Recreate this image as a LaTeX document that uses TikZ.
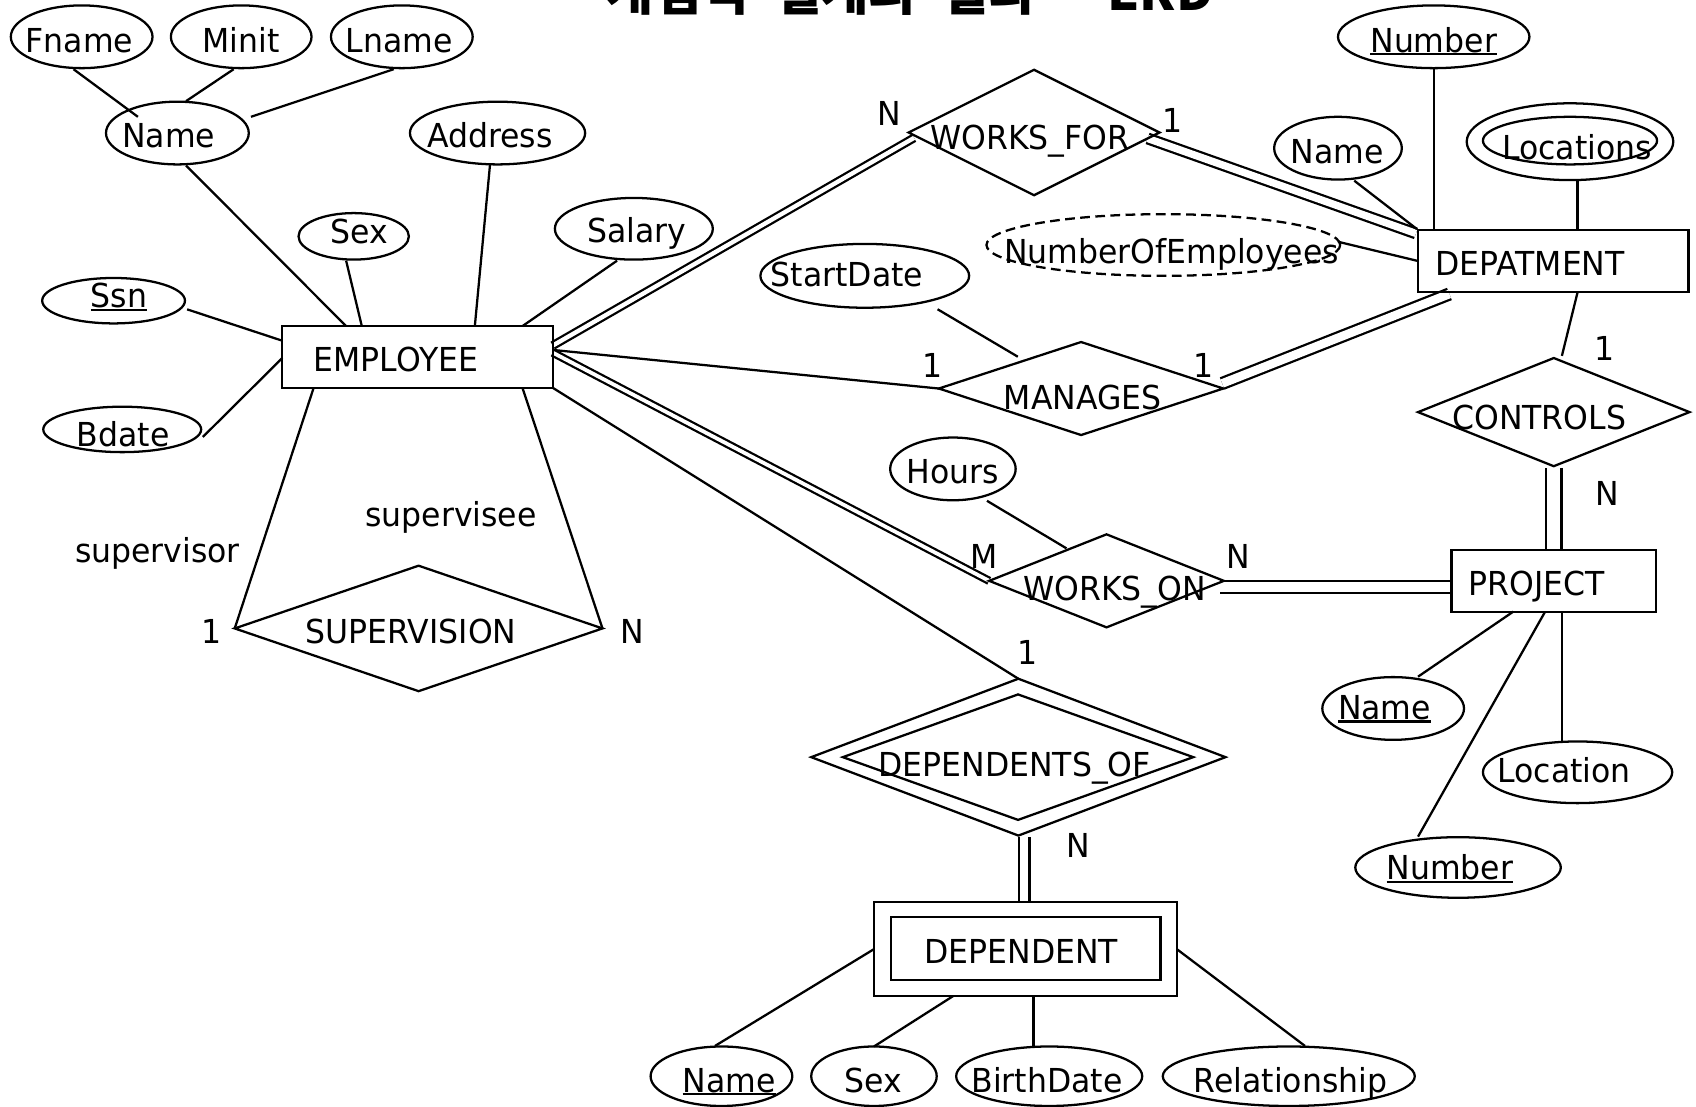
\documentclass[tikz,border=0pt]{standalone}
\usepackage{fontspec}
\setmainfont{DejaVu Sans}[FakeStretch=0.955]
\newfontfamily\krfont{Noto Sans CJK KR}
\usetikzlibrary{shapes.geometric,calc}
\pgfdeclarelayer{paper}
\pgfdeclarelayer{links}
\pgfsetlayers{paper,links,main}

% text inside a node, moved by dx (right) and dy (down)
\newcommand\tx[3]{\makebox[0pt]{\hspace*{#1pt}\hspace*{#1pt}\raisebox{-#2pt}{#3}}}
% text starting dx from the node centre, moved dy down
\newcommand\txl[3]{\makebox[0pt][l]{\hspace*{#1pt}\raisebox{-#2pt}{#3}}}
% underline for key attributes
\newcommand\keyline[1]{\setbox0=\hbox{#1}\rlap{\rule[-3pt]{\wd0}{2pt}}\box0}

\tikzset{
  every node/.style={font=\fontsize{30.5}{36}\selectfont, text height=22.2pt,
    text depth=0pt, inner sep=0pt, outer sep=0pt},
  attr/.style={ellipse, draw, line width=2.1pt},
  entity/.style={rectangle, draw, line width=2.1pt},
  rel/.style={diamond, draw, line width=2.1pt},
  link/.style={line width=2.1pt},
  dbl/.style={double, line width=2.1pt, double distance=#1},
}

\begin{document}
\begin{tikzpicture}[x=1pt, y=-1pt]
\useasboundingbox (0,0) rectangle (1568,1023);
\clip (0,0) rectangle (1568,1023);
\begin{pgfonlayer}{paper}
  \fill[white] (0,0) rectangle (1568,1023);
\end{pgfonlayer}

% title
\node[anchor=base west, font=\krfont\bfseries\fontsize{47.5}{52}\selectfont] (title) at (561,10)
  {개념적\hspace{0.5em}설계의\hspace{0.5em}결과\hspace{0.5em}-\hspace{0.5em}ERD};

% EMPLOYEE and its attributes
\node[entity, minimum width=250, minimum height=57] (emp) at (386,330) {\txl{-96}{2}{EMPLOYEE}};
\node[attr, minimum width=131, minimum height=58] (fname) at (75.5,34) {\tx{-2}{3}{Fname}};
\node[attr, minimum width=130, minimum height=58] (minit) at (223,34) {\tx{0}{3}{Minit}};
\node[attr, minimum width=131, minimum height=58] (lname) at (371.5,34) {\tx{-2.5}{3}{Lname}};
\node[attr, minimum width=132, minimum height=58] (ename) at (164,123) {\tx{-8}{2}{Name}};
\node[attr, minimum width=162, minimum height=58] (address) at (460,123) {\tx{-7}{2.6}{Address}};
\node[attr, minimum width=102, minimum height=43] (sex) at (327,218.5) {\tx{5.5}{-4.5}{Sex}};
\node[attr, minimum width=146, minimum height=57] (salary) at (586,211.5) {\tx{2.5}{2}{Salary}};
\node[attr, minimum width=132, minimum height=42] (ssn) at (105,278) {\tx{5}{-4.5}{\keyline{Ssn}}};
\node[attr, minimum width=146, minimum height=42] (bdate) at (113,397) {\tx{1}{4.5}{Bdate}};

% DEPATMENT and its attributes
\node[entity, minimum width=250, minimum height=57] (dept) at (1436,241.3) {\txl{-109}{2.2}{DEPATMENT}};
\node[attr, minimum width=177, minimum height=58] (dnum) at (1325.5,34) {\tx{0}{3}{\keyline{Number}}};
\node[attr, minimum width=118, minimum height=58] (dname) at (1237,137) {\tx{-1}{3}{Name}};
\node[attr, minimum width=191, minimum height=71] (locs) at (1451.5,131) {\tx{6.5}{5}{Locations}};
\node[attr, minimum width=161, minimum height=44] (locsin) at (1451.5,130) {};
\node[attr, dashed, dash pattern=on 9pt off 5pt, minimum width=327, minimum height=57] (noe)
  at (1075.5,226.5) {\tx{7.7}{6}{NumberOfEmployees}};

% PROJECT and its attributes
\node[entity, minimum width=189, minimum height=57] (proj) at (1436.5,537) {\txl{-78.5}{2.4}{PROJECT}};
\node[attr, minimum width=131, minimum height=58] (pname) at (1288,655) {\tx{-8}{-1}{\keyline{Name}}};
\node[attr, minimum width=175, minimum height=57] (ploc) at (1458.5,714) {\tx{-12.5}{-1.3}{Location}};
\node[attr, minimum width=190, minimum height=56] (pnum) at (1348,802) {\tx{-7.5}{0}{\keyline{Number}}};

% DEPENDENT (weak entity) and its attributes
\node[entity, minimum width=280, minimum height=87] (dep) at (948,877.5) {\txl{-93.4}{2.5}{DEPENDENT}};
\node[entity, minimum width=249, minimum height=58] (depin) at (948.5,877) {};
\node[attr, minimum width=131, minimum height=55] (dpname) at (667,995) {\tx{7}{3.5}{\keyline{Name}}};
\node[attr, minimum width=116, minimum height=55] (dsex) at (808,995) {\tx{-1}{3.5}{Sex}};
\node[attr, minimum width=172, minimum height=55] (dbirth) at (970,995) {\tx{-2}{3.5}{BirthDate}};
\node[attr, minimum width=233, minimum height=55] (drel) at (1191.5,995) {\tx{1.5}{3.5}{Relationship}};

% relationships
\node[rel, minimum width=232, minimum height=116] (wf) at (956,122.5) {\tx{-4}{4.5}{WORKS\_FOR}};
\node[rel, minimum width=263, minimum height=86] (man) at (999.5,359.2) {\tx{1.5}{8}{MANAGES}};
\node[attr, minimum width=193, minimum height=59] (start) at (799.5,255) {\tx{-16.5}{-1}{StartDate}};
\node[rel, minimum width=251, minimum height=100] (ctrl) at (1436.5,381) {\tx{-13.5}{5}{CONTROLS}};
\node[rel, minimum width=217, minimum height=86] (won) at (1023,537) {\tx{7.4}{7}{WORKS\_ON}};
\node[attr, minimum width=116, minimum height=58] (hours) at (881,433.5) {\tx{0}{2.5}{Hours}};
\node[rel, minimum width=383, minimum height=145] (depof) at (941.5,700) {\tx{-3.5}{6.5}{DEPENDENTS\_OF}};
\node[rel, minimum width=324, minimum height=116] (depofin) at (941.2,700) {};
\node[rel, minimum width=340, minimum height=116] (sup) at (387,581) {\tx{-7}{3}{SUPERVISION}};

% role names and cardinalities
\node (supervisor) at (145.6,509) {supervisor};
\node (supervisee) at (417,476) {supervisee};
\node (cwf1) at (822,104.8) {N};
\node (cwf2) at (1084,111) {1};
\node (cman1) at (861.7,337.5) {1};
\node (cman2) at (1113,338) {1};
\node (cctrl1) at (1483.3,322) {1};
\node (cctrl2) at (1485.7,456) {N};
\node (cwon1) at (909.5,514.7) {M};
\node (cwon2) at (1144.8,514.7) {N};
\node (cdep1) at (950,603.3) {1};
\node (cdep2) at (996.7,781.3) {N};
\node (csup1) at (195.6,584) {1};
\node (csup2) at (585,584) {N};

% free ends of the vertical connectors
\coordinate (locsfoot) at ($(locs)+(7,35.5)$);
\coordinate (projfoot) at ($(proj.south)+(7.5,0)$);
\coordinate (depoffoot) at ($(depof.south)+(5.5,1.5)$);
\coordinate (depfoot) at ($(dep.south)+(7.4,0)$);

\begin{pgfonlayer}{links}
  % composite name
  \draw[link] ($(fname)+(-7.5,30)$) -- ($(ename)+(-36.5,-15)$);
  \draw[link] ($(minit)+(-7,30)$) -- ($(ename)+(8,-29.5)$);
  \draw[link] ($(lname)+(-7.5,30)$) -- ($(ename)+(68,-15)$);
  % EMPLOYEE attributes
  \draw[link] ($(ename)+(8,30)$) -- ($(emp.north)+(-66,0)$);
  \draw[link] ($(sex)+(-7,22.5)$) -- ($(emp.north)+(-51.5,0)$);
  \draw[link] ($(address)+(-7,29.5)$) -- ($(emp.north)+(53,0)$);
  \draw[link] ($(salary)+(-15.5,29.5)$) -- ($(emp.north)+(97,0)$);
  \draw[link] ($(ssn)+(68,8)$) -- ($(emp.west)+(0,-15)$);
  \draw[link] ($(bdate)+(74.5,7)$) -- ($(emp.west)+(0,1)$);
  % WORKS_FOR
  \draw[dbl=4pt] ($(emp.east)+(0,-10.5)$) -- ($(wf.west)+(5,5)$);
  \draw[dbl=6.8pt] ($(wf.east)+(-11,5.5)$) -- ($(dept.north west)+(-2,3)$);
  % DEPATMENT attributes
  \draw[link] (dnum.south) -- (dnum.south |- dept.north);
  \draw[link] ($(dname)+(15,30)$) -- ($(dept.north west)+(-1,-1)$);
  \draw[link] (locsfoot) -- (locsfoot |- dept.north);
  \draw[link] ($(noe)+(161.5,-3)$) -- (dept.west);
  % MANAGES
  \draw[link] ($(emp.east)+(0,-6.5)$) -- (man.west);
  \draw[link] ($(start)+(67.3,30.9)$) -- ($(man)+(-58.5,-29.4)$);
  \draw[dbl=8pt] ($(man.east)+(-1,-4.7)$) -- ($(dept.south west)+(29,2)$);
  % CONTROLS
  \draw[link] ($(dept.south)+(22.6,0)$) -- ($(ctrl.north)+(7.5,-2)$);
  \draw[dbl=12.2pt] ($(ctrl.south)+(0,1.5)$) -- (ctrl.south |- proj.north);
  % WORKS_ON
  \draw[dbl=3.5pt] ($(emp.east)+(0,-4)$) -- (won.west);
  \draw[link] ($(hours)+(31.5,29.5)$) -- ($(won)+(-37,-30)$);
  \draw[dbl=8.6pt] ($(won.east)+(-4,5.6)$) -- ($(proj.west)+(0,5.6)$);
  % PROJECT attributes
  \draw[link] ($(proj.south)+(-37.5,0)$) -- ($(pname)+(23,-29.4)$);
  \draw[link] (projfoot) -- (projfoot |- ploc.north);
  \draw[link] ($(proj.south)+(-8,0)$) -- ($(pnum)+(-37,-28.5)$);
  % DEPENDENTS_OF
  \draw[link] (emp.south east) -- (depof.north);
  \draw[dbl=7.3pt] (depoffoot) -- (depoffoot |- dep.north);
  % DEPENDENT attributes
  \draw[link] (dep.west) -- ($(dpname)+(-6,-28)$);
  \draw[link] ($(dep.south)+(-67,0)$) -- (dsex.north);
  \draw[link] (depfoot) -- (depfoot |- dbirth.north);
  \draw[link] (dep.east) -- ($(drel)+(15,-28)$);
  % SUPERVISION
  \draw[link] ($(emp.south west)+(29,0)$) -- (sup.west);
  \draw[link] ($(emp.south east)+(-28,0)$) -- (sup.east);
\end{pgfonlayer}
\end{tikzpicture}
\end{document}
